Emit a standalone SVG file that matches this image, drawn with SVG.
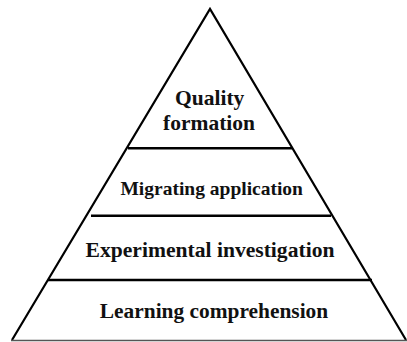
<svg xmlns="http://www.w3.org/2000/svg" width="407" height="342" viewBox="0 0 407 342">
  <style>
    .edge { fill: none; stroke: #000; stroke-width: 2.2; stroke-linejoin: miter; }
    .tier { stroke: #000; stroke-width: 2.5; }
    .label { font-family: "Liberation Serif", "Times New Roman", serif; font-weight: bold; fill: #111; text-anchor: middle; }
  </style>
  <rect width="407" height="342" fill="#fff"/>
  <!-- pyramid outline and tier dividers -->
  <g id="connectors">
    <polyline class="edge" points="12,340 210,9 406,340"/>
    <line x1="11" y1="340.5" x2="407" y2="340.5" stroke="#555" stroke-width="1.5"/>
    <line class="tier" x1="128" y1="148.3" x2="292" y2="148.3"/>
    <line class="tier" x1="91" y1="215.7" x2="331" y2="215.7"/>
    <line class="tier" x1="48" y1="280" x2="372" y2="280"/>
  </g>
  <g id="quality-formation">
    <text class="label" x="209.7" y="105" font-size="21.5">Quality</text>
    <text class="label" x="209" y="130" font-size="21.5">formation</text>
  </g>
  <g id="migrating-application">
    <text class="label" x="211.7" y="195" font-size="19.5">Migrating application</text>
  </g>
  <g id="experimental-investigation">
    <text class="label" x="210" y="256.5" font-size="21.6">Experimental investigation</text>
  </g>
  <g id="learning-comprehension">
    <text class="label" x="214" y="318.3" font-size="21.4">Learning comprehension</text>
  </g>
</svg>
